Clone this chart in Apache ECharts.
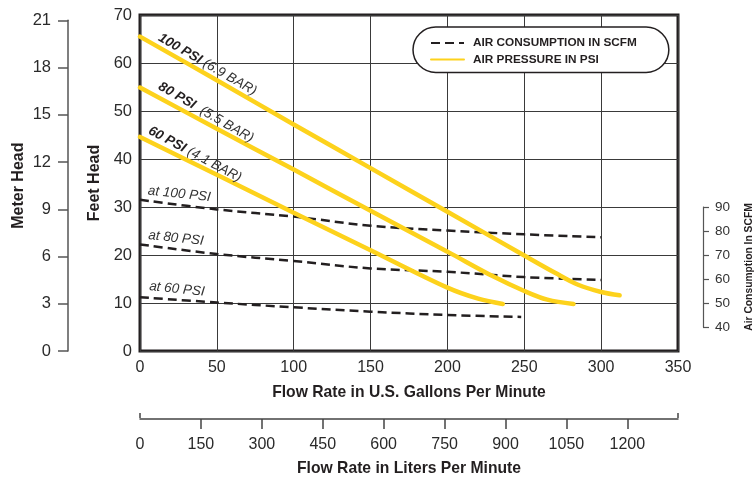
<!DOCTYPE html>
<html>
<head>
<meta charset="utf-8">
<script src="https://cdn.jsdelivr.net/npm/echarts@6/dist/echarts.min.js"></script>
<style>html,body{margin:0;padding:0;background:#fff}#c{width:755px;height:480px}</style>
</head>
<body>
<div id="c"></div>
<script>
// ---- data ----
const psi100Flow = [0, 50, 100, 150, 200, 250, 270, 285, 300, 312];
const psi100Head = [65.5, 56.4, 47.2, 38.1, 29.0, 19.9, 16.3, 13.8, 12.3, 11.6];
const psi80Flow  = [0, 50, 100, 150, 200, 230, 250, 265, 282];
const psi80Head  = [54.9, 46.3, 37.8, 29.2, 20.7, 15.5, 12.5, 10.7, 9.8];
const psi60Flow  = [0, 50, 100, 150, 200, 220, 236];
const psi60Head  = [44.6, 36.7, 28.8, 21.0, 13.2, 10.9, 9.8];

const air100Flow = [0, 50, 100, 150, 200, 250, 300];
const air100Scfm = [93, 89, 86, 82.2, 80.2, 78.6, 77.4];
const air80Flow  = [0, 50, 100, 150, 200, 250, 300];
const air80Scfm  = [74.4, 70.4, 67.5, 64.4, 63, 60.8, 59.6];
const air60Flow  = [0, 50, 100, 150, 200, 248];
const air60Scfm  = [52.4, 50.2, 48.2, 46.4, 45, 44.2];

const gpmRange = [0, 350];        // tick step 50
const feetRange = [0, 70];        // tick step 10
const meterTicksMax = 21;         // tick step 3
const scfmScaleRange = [30, 170]; // SCFM scale aligned with the feet grid
const scfmTicksRange = [40, 90];  // tick step 10
const literTicks = [0, 150, 300, 450, 600, 750, 900, 1050, 1200];
const L_PER_GAL = 3.785;
const M_PER_FT = 0.3048;

const pair = (xs, ys) => xs.map((x, i) => [x, ys[i]]);

// ---- layout ----
const FONT = "'Liberation Sans',Arial,sans-serif";
const G = { left: 140, top: 15, width: 538, height: 336 };
const gBottom = G.top + G.height;
const meterMaxFt = feetRange[1] * M_PER_FT;
const meterTop = G.top + G.height * (1 - meterTicksMax / meterMaxFt);
const scfmSpan = scfmScaleRange[1] - scfmScaleRange[0];
const scfmTop = G.top + G.height * (scfmScaleRange[1] - scfmTicksRange[1]) / scfmSpan;
const scfmH = G.height * (scfmTicksRange[1] - scfmTicksRange[0]) / scfmSpan;
const literMax = gpmRange[1] * L_PER_GAL;

const chart = echarts.init(document.getElementById('c'), null, { renderer: 'canvas' });

const yellow = '#FDD21C';
const ink = '#231f20';
const tickText = '#2a2a2a';

const yellowSeries = (data) => ({
  type: 'line', name: 'AIR PRESSURE IN PSI', xAxisIndex: 0, yAxisIndex: 0,
  data, smooth: 0.35, symbol: 'none', z: 4, silent: true,
  lineStyle: { color: yellow, width: 4.5, cap: 'round' }, itemStyle: { color: yellow }
});
const dashSeries = (data) => ({
  type: 'line', name: 'AIR CONSUMPTION IN SCFM', xAxisIndex: 0, yAxisIndex: 1,
  data, smooth: 0.35, symbol: 'none', z: 3, silent: true,
  lineStyle: { color: ink, width: 2.5, type: [9, 5] }, itemStyle: { color: ink }
});
const titleStyle = (size) => ({ fontSize: size, fontWeight: 'bold', color: ink, fontFamily: FONT });

const option = {
  animation: false,
  backgroundColor: '#fff',
  textStyle: { fontFamily: FONT },
  legend: {
    orient: 'vertical', left: 413, top: 27,
    data: ['AIR CONSUMPTION IN SCFM', 'AIR PRESSURE IN PSI'],
    itemWidth: 33, itemHeight: 12, itemGap: 4.5,
    padding: [10, 32, 7, 17],
    backgroundColor: '#fff', borderColor: ink, borderWidth: 1.5, borderRadius: 23,
    selectedMode: false,
    itemStyle: { opacity: 0 },
    textStyle: { fontFamily: FONT, fontWeight: 'bold', fontSize: 11.8, color: ink, padding: [0, 0, 0, 4] }
  },
  grid: [
    { left: G.left, top: G.top, width: G.width, height: G.height, show: true, borderColor: ink, borderWidth: 3, backgroundColor: 'transparent' },
    { left: 68, top: meterTop, width: 1, height: gBottom - meterTop },
    { left: 703, top: scfmTop, width: 1, height: scfmH },
    { left: G.left, top: 418, width: G.width, height: 1 }
  ],
  xAxis: [
    { gridIndex: 0, type: 'value', min: gpmRange[0], max: gpmRange[1], interval: 50,
      axisLine: { show: false }, axisTick: { show: false },
      splitLine: { show: true, lineStyle: { color: '#3a3a3a', width: 1 } },
      axisLabel: { fontSize: 16, color: tickText, margin: 9, fontFamily: FONT },
      name: 'Flow Rate in U.S. Gallons Per Minute', nameLocation: 'middle', nameGap: 34,
      nameTextStyle: titleStyle(15.7) },
    { gridIndex: 1, type: 'value', show: false },
    { gridIndex: 2, type: 'value', show: false },
    { gridIndex: 3, type: 'value', min: 0, max: literMax, interval: 150,
      axisLine: { show: true, lineStyle: { color: '#444', width: 1.5 } },
      axisTick: { show: true, length: 10, customValues: literTicks.slice(1), lineStyle: { color: '#444', width: 1.5 } },
      splitLine: { show: false },
      axisLabel: { fontSize: 16, color: tickText, margin: 18, customValues: literTicks, fontFamily: FONT,
                   formatter: (v) => String(v) },
      name: 'Flow Rate in Liters Per Minute', nameLocation: 'middle', nameGap: 42,
      nameTextStyle: titleStyle(15.7) },
    { gridIndex: 3, type: 'value', min: 0, max: literMax,
      axisLine: { show: false },
      axisTick: { show: true, length: 5, customValues: [0, literMax], lineStyle: { color: '#444', width: 1.5 } },
      axisLabel: { show: false }, splitLine: { show: false } }
  ],
  yAxis: [
    { gridIndex: 0, type: 'value', min: feetRange[0], max: feetRange[1], interval: 10,
      axisLine: { show: false }, axisTick: { show: false },
      splitLine: { show: true, lineStyle: { color: '#3a3a3a', width: 1 } },
      axisLabel: { fontSize: 16.5, color: tickText, margin: 8, fontFamily: FONT },
      name: 'Feet Head', nameLocation: 'middle', nameGap: 30, nameRotate: 90,
      nameTextStyle: titleStyle(16) },
    { gridIndex: 0, type: 'value', min: scfmScaleRange[0], max: scfmScaleRange[1], show: false, splitLine: { show: false } },
    { gridIndex: 1, type: 'value', min: 0, max: meterTicksMax, interval: 3, position: 'left',
      axisLine: { show: true, lineStyle: { color: '#555', width: 1.5 } },
      axisTick: { show: true, length: 10, lineStyle: { color: '#555', width: 1.5 } },
      splitLine: { show: false },
      axisLabel: { fontSize: 16.5, color: tickText, margin: 17, fontFamily: FONT },
      name: 'Meter Head', nameLocation: 'middle', nameGap: 41, nameRotate: 90,
      nameTextStyle: titleStyle(16) },
    { gridIndex: 2, type: 'value', min: scfmTicksRange[0], max: scfmTicksRange[1], interval: 10, position: 'right',
      axisLine: { show: true, lineStyle: { color: '#555', width: 1.2 } },
      axisTick: { show: true, length: 6, lineStyle: { color: '#555', width: 1.2 } },
      splitLine: { show: false },
      axisLabel: { fontSize: 13.5, color: '#333', margin: 11, fontFamily: FONT },
      name: 'Air Consumption In SCFM', nameLocation: 'middle', nameGap: 40, nameRotate: 90,
      nameTextStyle: titleStyle(10.3) },
    { gridIndex: 3, type: 'value', show: false }
  ],
  series: [
    dashSeries(pair(air100Flow, air100Scfm)),
    dashSeries(pair(air80Flow, air80Scfm)),
    dashSeries(pair(air60Flow, air60Scfm)),
    yellowSeries(pair(psi100Flow, psi100Head)),
    yellowSeries(pair(psi80Flow, psi80Head)),
    yellowSeries(pair(psi60Flow, psi60Head))
  ]
};
chart.setOption(option);

// ---- curve annotations, anchored in data coordinates ----
const pressureLabels = [
  { at: [43.8, 59.7], bold: '100 PSI', rest: ' (6.9 BAR)', deg: 30 },
  { at: [42.9, 49.7], bold: '80 PSI', rest: '  (5.5 BAR)', deg: 30 },
  { at: [35.7, 41.0], bold: '60 PSI', rest: ' (4.1 BAR)', deg: 28 }
];
const airLabels = [
  { at: [25.6, 32.7], text: 'at 100 PSI' },
  { at: [23.4, 23.5], text: 'at 80 PSI' },
  { at: [24.0, 12.9], text: 'at 60 PSI' }
];
const toPx = (p) => chart.convertToPixel({ xAxisIndex: 0, yAxisIndex: 0 }, p);
const graphics = [];
pressureLabels.forEach(l => {
  const [x, y] = toPx(l.at);
  graphics.push({
    type: 'text', x, y, rotation: -l.deg * Math.PI / 180, z: 10, silent: true,
    style: {
      text: '{b|' + l.bold + '}{n|' + l.rest + '}', align: 'center', verticalAlign: 'middle',
      rich: {
        b: { fontFamily: FONT, fontSize: 13.5, fontWeight: 'bold', fontStyle: 'italic', fill: ink },
        n: { fontFamily: FONT, fontSize: 13.5, fontStyle: 'italic', fill: '#333' }
      }
    }
  });
});
airLabels.forEach(l => {
  const [x, y] = toPx(l.at);
  graphics.push({
    type: 'text', x, y, rotation: -6 * Math.PI / 180, z: 10, silent: true,
    style: { text: l.text, align: 'center', verticalAlign: 'middle', fontFamily: FONT, fontSize: 13.5, fontStyle: 'italic', fill: '#333' }
  });
});
chart.setOption({ graphic: graphics });
</script>
</body>
</html>
